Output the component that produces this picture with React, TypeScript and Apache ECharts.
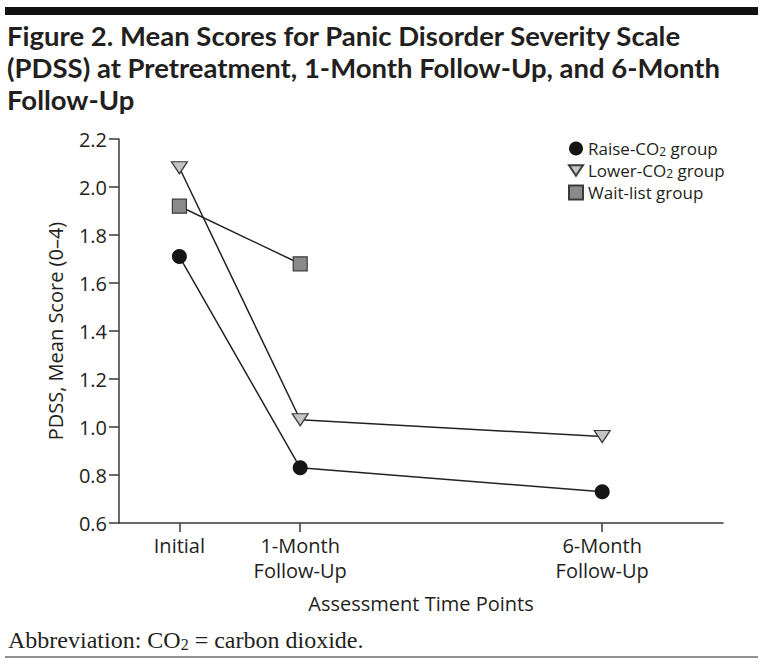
import React, { useEffect, useRef } from "react";
import * as echarts from "echarts";

const axisCategories = ["", "Initial", "", "1-Month\nFollow-Up", "", "", "", "", "6-Month\nFollow-Up", "", ""];
const timePoints = ["Initial", "1-Month\nFollow-Up", "6-Month\nFollow-Up"];
const raiseCO2 = [1.71, 0.83, 0.73];
const lowerCO2 = [2.08, 1.03, 0.96];
const waitList = [1.92, 1.68, null];
const seriesNames = ["Raise-CO2 group", "Lower-CO2 group", "Wait-list group"];

const TRI = "path://M0,0 L16,0 L8,12 Z";

export default function App() {
  const ref = useRef<HTMLDivElement>(null);
  useEffect(() => {
    document.body.style.margin = "0";
    const chart = echarts.init(ref.current!, undefined, { renderer: "svg" });
    const toData = (vals: (number | null)[]) =>
      timePoints.map((t, i) => [t, vals[i]]).filter((d) => d[1] !== null);
    const axisColor = "#3a3a3a";
    const font = "Open Sans";
    const txt = "#231f20";
    chart.setOption({
      animation: false,
      backgroundColor: "#ffffff",
      title: {
        text: "Figure 2. Mean Scores for Panic Disorder Severity Scale\n(PDSS) at Pretreatment, 1-Month Follow-Up, and 6-Month\nFollow-Up",
        left: 2,
        top: 14,
        padding: [5, 5, 5, 5],
        textStyle: { fontFamily: "Lato", fontWeight: "bold", fontSize: 27.5, lineHeight: 32, color: txt },
      },
      grid: { left: 119, right: 45, top: 139, bottom: 149, containLabel: false },
      legend: {
        orient: "vertical",
        left: 563,
        top: 135,
        itemWidth: 14,
        itemHeight: 14,
        itemGap: 5,
        textStyle: {
          fontFamily: font,
          fontSize: 17,
          color: txt,
          rich: {
            n: { fontFamily: font, fontSize: 17, lineHeight: 17, color: txt },
            sub: { fontFamily: font, fontSize: 12, lineHeight: 12, color: txt, padding: [5, 0, 0, 0] },
          },
        },
        formatter: (name: string) => {
          if (name.indexOf("CO2") >= 0) {
            const parts = name.split("CO2");
            return "{n|" + parts[0] + "CO}{sub|2}{n|" + parts[1] + "}";
          }
          return "{n|" + name + "}";
        },
        data: [
          { name: seriesNames[0], icon: "circle" },
          { name: seriesNames[1], icon: TRI },
          { name: seriesNames[2], icon: "rect" },
        ],
      },
      xAxis: {
        type: "category",
        data: axisCategories,
        boundaryGap: false,
        name: "Assessment Time Points",
        nameLocation: "middle",
        nameGap: 70,
        nameTextStyle: { fontFamily: font, fontSize: 20, color: txt },
        axisLine: { lineStyle: { color: axisColor, width: 1.5 } },
        axisTick: {
          show: true,
          length: 9,
          interval: (_i: number, v: string) => v !== "",
          lineStyle: { color: axisColor, width: 1.5 },
        },
        axisLabel: {
          interval: (_i: number, v: string) => v !== "",
          margin: 10,
          fontFamily: font,
          fontSize: 20,
          lineHeight: 25,
          color: txt,
        },
        splitLine: { show: false },
      },
      yAxis: {
        type: "value",
        min: 0.6,
        max: 2.2,
        interval: 0.2,
        name: "PDSS, Mean Score (0\u20134)",
        nameLocation: "middle",
        nameGap: 54,
        nameTextStyle: { fontFamily: font, fontSize: 20, color: txt },
        axisLine: { show: true, lineStyle: { color: axisColor, width: 1.5 } },
        axisTick: { show: true, length: 10, lineStyle: { color: axisColor, width: 1.5 } },
        axisLabel: {
          margin: 12,
          fontFamily: font,
          fontSize: 20,
          color: txt,
          formatter: (v: number) => v.toFixed(1),
        },
        splitLine: { show: false },
      },
      series: [
        {
          name: seriesNames[0],
          type: "line",
          data: toData(raiseCO2),
          symbol: "circle",
          symbolSize: 15,
          lineStyle: { color: "#222", width: 1.5 },
          itemStyle: { color: "#151515", borderColor: "#151515", borderWidth: 0 },
          z: 3,
        },
        {
          name: seriesNames[1],
          type: "line",
          data: toData(lowerCO2),
          symbol: TRI,
          symbolSize: [16, 12],
          lineStyle: { color: "#222", width: 1.5 },
          itemStyle: { color: "#c4c4c4", borderColor: "#3a3a3a", borderWidth: 1.2 },
          z: 3,
        },
        {
          name: seriesNames[2],
          type: "line",
          data: toData(waitList),
          symbol: "rect",
          symbolSize: 14,
          lineStyle: { color: "#222", width: 1.5 },
          itemStyle: { color: "#8a8a8a", borderColor: "#3a3a3a", borderWidth: 1.2 },
          z: 3,
        },
      ],
      graphic: [
        { type: "rect", shape: { x: 5, y: 7, width: 753, height: 8 }, style: { fill: "#111" } },
        { type: "line", shape: { x1: 5, y1: 657, x2: 758, y2: 657 }, style: { stroke: "#222", lineWidth: 1 } },
        {
          type: "text",
          left: 8,
          top: 627,
          style: {
            text: "{n|Abbreviation: CO}{sub|2}{n| = carbon dioxide.}",
            rich: {
              n: { fontFamily: "Liberation Serif", fontSize: 24, lineHeight: 24, fill: txt },
              sub: { fontFamily: "Liberation Serif", fontSize: 16, lineHeight: 16, fill: txt, padding: [9, 0, 0, 0] },
            },
          },
        },
      ],
    });
    return () => chart.dispose();
  }, []);
  return <div ref={ref} style={{ position: "fixed", left: 0, top: 0, width: 768, height: 672 }} />;
}
